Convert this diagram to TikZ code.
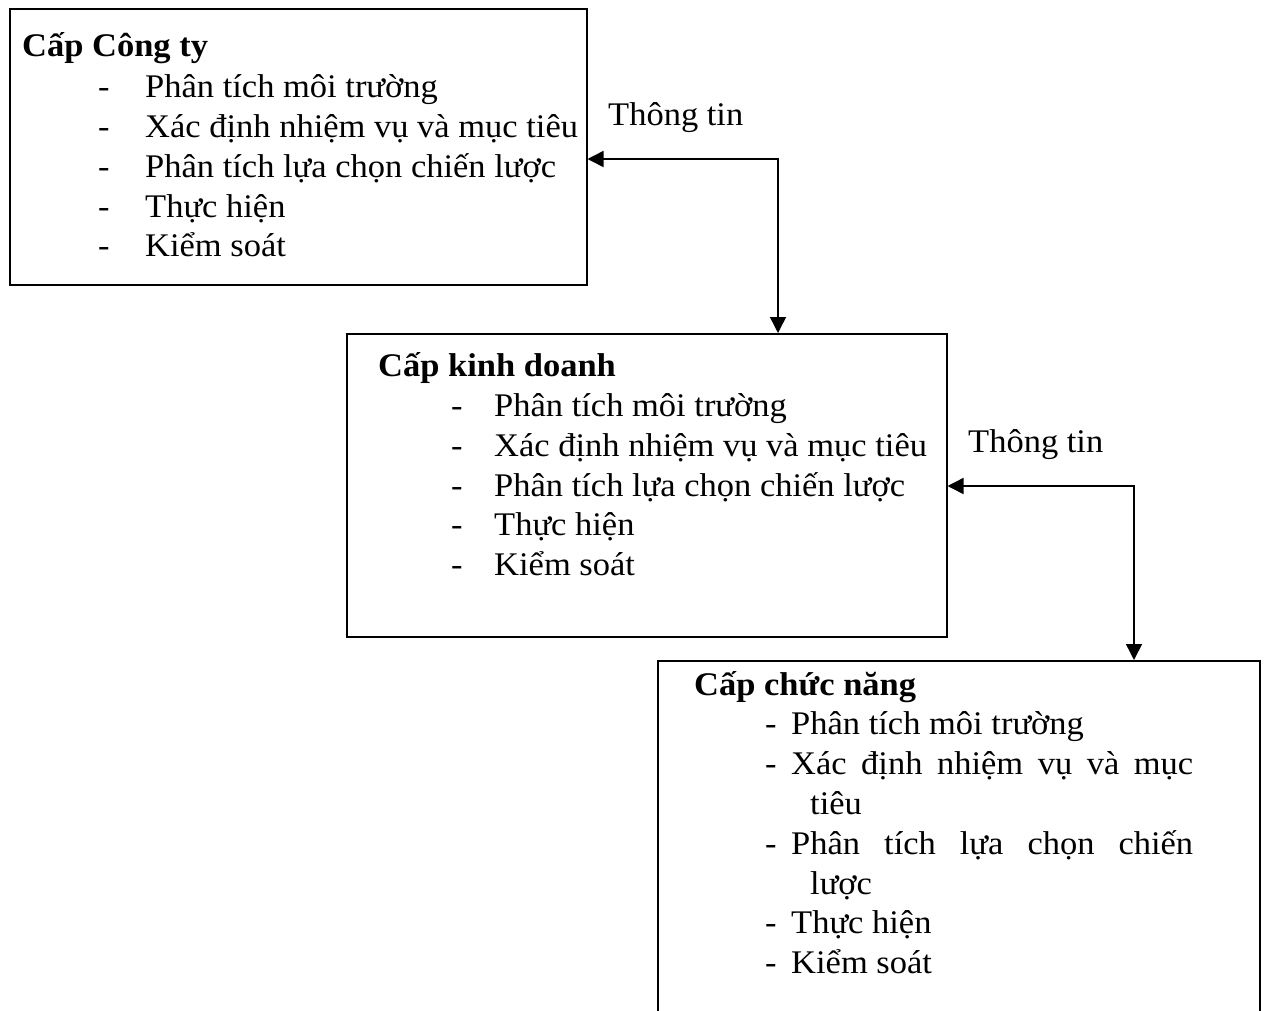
\documentclass[tikz,border=0pt]{standalone}
\usepackage{fontspec}
\setmainfont{Liberation Serif}[FakeStretch=1.045]
\usetikzlibrary{arrows.meta}
\tikzset{
  box/.style={draw, line width=1.5pt, anchor=north west, inner sep=0pt},
  txt/.style={anchor=base west, inner sep=0pt, font=\fontsize{33}{40}\selectfont},
  ttl/.style={txt, font=\fontsize{33}{40}\selectfont\bfseries},
  link/.style={line width=1.5pt, {Triangle[length=16pt,width=16pt]}-{Triangle[length=16pt,width=16pt]}}
}
\begin{document}
\begin{tikzpicture}[x=1pt,y=-1pt]
\useasboundingbox (0,0) rectangle (1266,1010);
\clip (0,0) rectangle (1266,1010);
% boxes
\node[box, minimum width=577pt, minimum height=276pt] (b1) at (9,8) {};
\node[box, minimum width=600pt, minimum height=303pt] (b2) at (346,333) {};
\node[box, minimum width=602pt, minimum height=420pt] (b3) at (657,660) {};
% box 1 text
\node[ttl] (t1) at (22,56) {Cấp Công ty};
\node[txt] (d11) at (98,97) {-}; \node[txt] (i11) at (145,97) {Phân tích môi trường};
\node[txt] (d12) at (98,137) {-}; \node[txt] (i12) at (145,137) {Xác định nhiệm vụ và mục tiêu};
\node[txt] (d13) at (98,177) {-}; \node[txt] (i13) at (145,177) {Phân tích lựa chọn chiến lược};
\node[txt] (d14) at (98,217) {-}; \node[txt] (i14) at (145,217) {Thực hiện};
\node[txt] (d15) at (98,256) {-}; \node[txt] (i15) at (145,256) {Kiểm soát};
% box 2 text
\node[ttl] (t2) at (378,376) {Cấp kinh doanh};
\node[txt] (d21) at (451,416) {-}; \node[txt] (i21) at (494,416) {Phân tích môi trường};
\node[txt] (d22) at (451,456) {-}; \node[txt] (i22) at (494,456) {Xác định nhiệm vụ và mục tiêu};
\node[txt] (d23) at (451,496) {-}; \node[txt] (i23) at (494,496) {Phân tích lựa chọn chiến lược};
\node[txt] (d24) at (451,535) {-}; \node[txt] (i24) at (494,535) {Thực hiện};
\node[txt] (d25) at (451,575) {-}; \node[txt] (i25) at (494,575) {Kiểm soát};
% box 3 text
\node[ttl] (t3) at (694,695) {Cấp chức năng};
\node[txt] (d31) at (765,734) {-}; \node[txt] (i31) at (791,734) {Phân tích môi trường};
\node[txt] (d32) at (765,774) {-}; \node[txt] (i32) at (791,774) {\makebox[402pt][s]{Xác định nhiệm vụ và mục}};
\node[txt] (i32b) at (810,814) {tiêu};
\node[txt] (d33) at (765,854) {-}; \node[txt] (i33) at (791,854) {\makebox[402pt][s]{Phân tích lựa chọn chiến}};
\node[txt] (i33b) at (810,894) {lược};
\node[txt] (d34) at (765,933) {-}; \node[txt] (i34) at (791,933) {Thực hiện};
\node[txt] (d35) at (765,973) {-}; \node[txt] (i35) at (791,973) {Kiểm soát};
% labels
\node[txt] (l1) at (608,125) {Thông tin};
\node[txt] (l2) at (968,452) {Thông tin};
% connectors
\coordinate (k1) at (778,159);
\coordinate (k2) at (1134,486);
\draw[link] (b1.east |- k1) -- (k1) -- (b2.north -| k1);
\draw[link] (b2.east |- k2) -- (k2) -- (b3.north -| k2);
\end{tikzpicture}
\end{document}
